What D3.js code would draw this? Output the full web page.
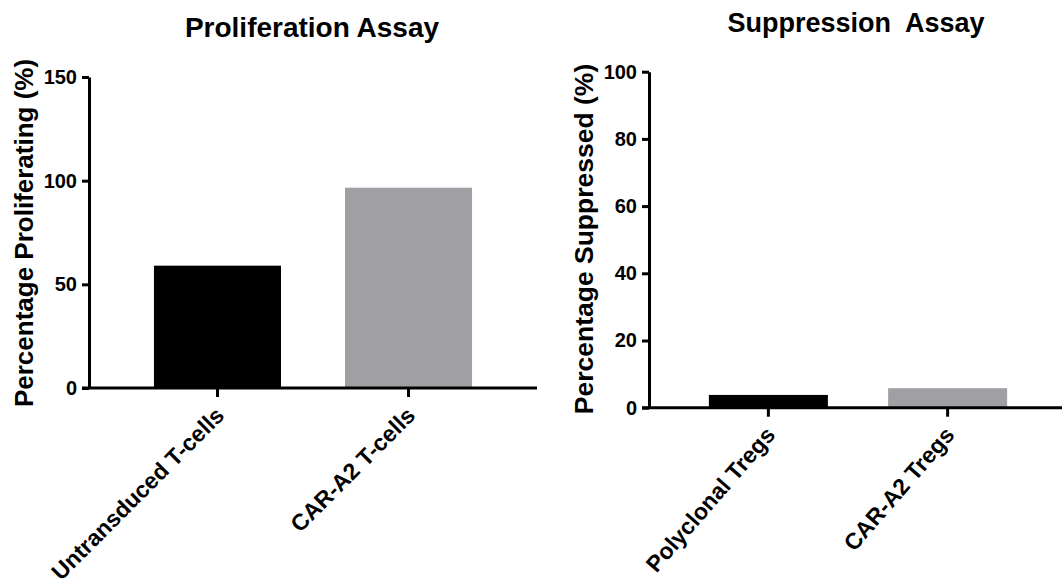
<!DOCTYPE html>
<html>
<head>
<meta charset="utf-8">
<script src="https://cdn.jsdelivr.net/npm/d3@7"></script>
<style>
  body { margin: 0; background: #fff; }
  text { font-family: "Liberation Sans", Arial, sans-serif; font-weight: bold; fill: #000; }
</style>
</head>
<body>
<div id="chart"></div>
<script>
// data
const prolifCategories = ['Untransduced T-cells', 'CAR-A2 T-cells'];
const prolifValues = [59, 96.6];
const prolifTicks = [0, 50, 100, 150];

const suppCategories = ['Polyclonal Tregs', 'CAR-A2 Tregs'];
const suppValues = [3.8, 5.8];
const suppTicks = [0, 20, 40, 60, 80, 100];

const barColors = ['#000000', '#a09fa3'];

const width = 1062;
const height = 586;

const svg = d3.select('#chart')
    .append('svg')
    .attr('width', width)
    .attr('height', height);

// one bar panel; every panel keeps its own geometry
function drawPanel(p) {
    const g = svg.append('g');

    const yScale = d3.scaleLinear()
        .domain([0, d3.max(p.ticks)])
        .range([p.bottom, p.top]);

    const xScale = d3.scaleBand()
        .domain(p.categories)
        .range([p.left, p.right])
        .paddingInner(p.padInner)
        .paddingOuter(p.padOuter);

    // bars first, the axes go over them
    g.selectAll('rect')
        .data(p.values)
        .enter()
        .append('rect')
        .attr('x', (d, i) => xScale(p.categories[i]))
        .attr('width', xScale.bandwidth())
        .attr('y', d => yScale(d))
        .attr('height', d => yScale(0) - yScale(d))
        .attr('fill', (d, i) => barColors[i]);

    const yAxis = d3.axisLeft(yScale)
        .tickValues(p.ticks)
        .tickSize(7)
        .tickSizeOuter(0)
        .tickPadding(5);

    const ya = g.append('g')
        .attr('transform', `translate(${p.left}, 0)`)
        .call(yAxis);

    ya.selectAll('text')
        .style('font-size', '20px');

    const xAxis = d3.axisBottom(xScale)
        .tickSize(9)
        .tickSizeOuter(0);

    const xa = g.append('g')
        .attr('transform', `translate(0, ${p.bottom})`)
        .call(xAxis);

    // x axis line runs from the y tick ends to the panel's right edge
    xa.select('.domain')
        .attr('d', `M${p.left - 7},0H${p.axisEnd}`);

    xa.selectAll('text')
        .attr('x', 0)
        .attr('y', 0)
        .attr('dy', 0)
        .attr('text-anchor', 'end')
        .attr('transform', `translate(8, ${p.labelDrop}) rotate(${p.angle})`)
        .style('font-size', '23px');

    g.selectAll('.domain, .tick line')
        .attr('stroke', '#000')
        .attr('stroke-width', 3);

    // title
    g.append('text')
        .text(p.title)
        .attr('x', p.titleX)
        .attr('y', p.titleY)
        .attr('text-anchor', 'middle')
        .style('font-size', p.titleSize + 'px')
        .style('white-space', 'pre');

    // y label
    g.append('text')
        .text(p.yLabel)
        .attr('text-anchor', 'middle')
        .attr('transform', `translate(${p.yLabelX}, ${p.yLabelY}) rotate(-90)`)
        .style('font-size', p.yLabelSize + 'px');
}

drawPanel({
    title: 'Proliferation Assay',
    titleX: 312, titleY: 37, titleSize: 28,
    yLabel: 'Percentage Proliferating (%)',
    yLabelX: 33, yLabelY: 233, yLabelSize: 26,
    categories: prolifCategories,
    values: prolifValues,
    ticks: prolifTicks,
    left: 89, right: 537, axisEnd: 537,
    top: 77, bottom: 388,
    padInner: 0.335, padOuter: 0.34,
    angle: -45, labelDrop: 29
});

drawPanel({
    title: 'Suppression  Assay',
    titleX: 856, titleY: 32, titleSize: 27,
    yLabel: 'Percentage Suppressed (%)',
    yLabelX: 593, yLabelY: 239, yLabelSize: 26.5,
    categories: suppCategories,
    values: suppValues,
    ticks: suppTicks,
    left: 649, right: 1067, axisEnd: 1062,
    top: 71.7, bottom: 407.7,
    padInner: 0.336, padOuter: 0.334,
    angle: -49, labelDrop: 28
});
</script>
</body>
</html>
